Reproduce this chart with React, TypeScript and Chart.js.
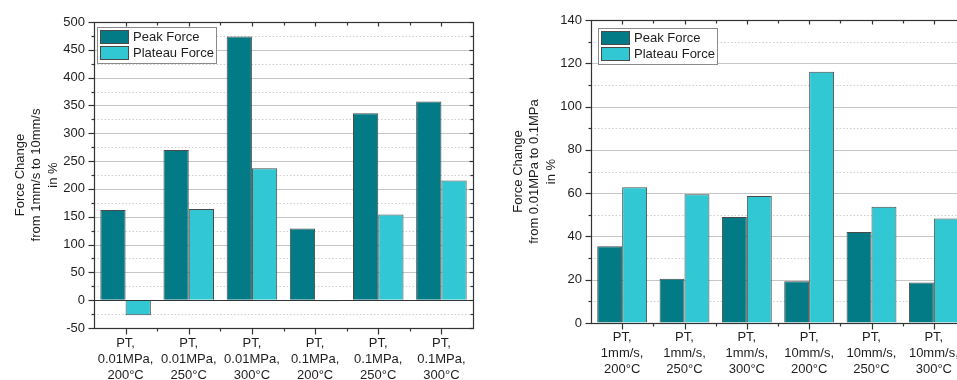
import React, { useEffect, useRef } from 'react';
import { Chart, registerables } from 'chart.js';

Chart.register(...registerables);

// ---------- data ----------
const seriesLabels = ['Peak Force', 'Plateau Force'];

const leftCategories = [
  ['PT,', '0.01MPa,', '200°C'],
  ['PT,', '0.01MPa,', '250°C'],
  ['PT,', '0.01MPa,', '300°C'],
  ['PT,', '0.1MPa,', '200°C'],
  ['PT,', '0.1MPa,', '250°C'],
  ['PT,', '0.1MPa,', '300°C'],
];
const leftPeak = [162, 270, 474, 129, 336, 357];
const leftPlateau = [-27, 164, 237, -2, 154, 215];
const leftTitle = ['Force Change', 'from 1mm/s to 10mm/s', 'in %'];

const rightCategories = [
  ['PT,', '1mm/s,', '200°C'],
  ['PT,', '1mm/s,', '250°C'],
  ['PT,', '1mm/s,', '300°C'],
  ['PT,', '10mm/s,', '200°C'],
  ['PT,', '10mm/s,', '250°C'],
  ['PT,', '10mm/s,', '300°C'],
];
const rightPeak = [35.5, 20.5, 49.0, 19.3, 42.1, 18.7];
const rightPlateau = [62.7, 59.5, 58.7, 116.1, 53.7, 48.3];
const rightTitle = ['Force Change', 'from 0.01MPa to 0.1MPa', 'in %'];

// ---------- style ----------
const FONT = '"Liberation Sans", Arial, sans-serif';
const PEAK_COLOR = '#037b86';
const PLATEAU_COLOR = '#31c8d3';
const BAR_BORDER = '#4a4a4a';
const AXIS_COLOR = '#333333';
const TEXT_COLOR = '#1e1e1e';

function hline(ctx: CanvasRenderingContext2D, x1: number, x2: number, y: number) {
  ctx.beginPath();
  ctx.moveTo(x1, y);
  ctx.lineTo(x2, y);
  ctx.stroke();
}
function vline(ctx: CanvasRenderingContext2D, x: number, y1: number, y2: number) {
  ctx.beginPath();
  ctx.moveTo(x, y1);
  ctx.lineTo(x, y2);
  ctx.stroke();
}

const decoPlugin = {
  id: 'deco',
  beforeDatasetsDraw(chart: any, _args: any, opts: any) {
    const { ctx, chartArea: a, scales } = chart;
    const y = scales.y;
    const vals: number[] = y.ticks.map((t: any) => t.value);
    ctx.save();
    ctx.lineWidth = 1;
    // minor dotted gridlines
    ctx.strokeStyle = '#cdcdcd';
    ctx.setLineDash([1.5, 2]);
    for (let i = 0; i < vals.length - 1; i++) {
      const py = Math.round(y.getPixelForValue((vals[i] + vals[i + 1]) / 2)) + 0.5;
      hline(ctx, a.left, a.right, py);
    }
    ctx.setLineDash([]);
    ctx.strokeStyle = '#c6c6c6';
    for (let i = 1; i < vals.length - 1; i++) {
      const py = Math.round(y.getPixelForValue(vals[i])) + 0.5;
      hline(ctx, a.left, a.right, py);
    }
    if (opts.zeroLine) {
      ctx.strokeStyle = AXIS_COLOR;
      const py = Math.round(y.getPixelForValue(0)) + 0.5;
      hline(ctx, a.left, a.right, py);
    }
    ctx.restore();
  },
  afterDraw(chart: any, _args: any, opts: any) {
    const { ctx, chartArea: a, scales } = chart;
    const x = scales.x;
    const y = scales.y;
    const vals: number[] = y.ticks.map((t: any) => t.value);
    ctx.save();
    ctx.strokeStyle = AXIS_COLOR;
    ctx.lineWidth = 1.2;
    const L = Math.round(a.left) + 0.5;
    const R = Math.round(a.right) + 0.5;
    const T = Math.round(a.top) + 0.5;
    const B = Math.round(a.bottom) + 0.5;
    ctx.strokeRect(L, T, R - L, B - T);
    // y ticks (major + minor), left outward, right inward
    for (let i = 0; i < vals.length; i++) {
      const py = Math.round(y.getPixelForValue(vals[i])) + 0.5;
      hline(ctx, L - 6, L, py);
      hline(ctx, R - 4, R, py);
      if (i < vals.length - 1) {
        const pm = Math.round(y.getPixelForValue((vals[i] + vals[i + 1]) / 2)) + 0.5;
        hline(ctx, L - 3, L, pm);
        hline(ctx, R - 3, R, pm);
      }
    }
    // x ticks at category centers and minor at boundaries
    const n = chart.data.labels.length;
    for (let i = 0; i < n; i++) {
      const px = Math.round(x.getPixelForTick(i)) + 0.5;
      vline(ctx, px, B, B + 6);
      vline(ctx, px, T, T + 4);
      if (i < n - 1) {
        const pm = Math.round((x.getPixelForTick(i) + x.getPixelForTick(i + 1)) / 2) + 0.5;
        vline(ctx, pm, B, B + 3);
        vline(ctx, pm, T, T + 3);
      }
    }
    // legend
    const lx = a.left + opts.legendDX;
    const ly = a.top + opts.legendDY;
    ctx.font = `13px ${FONT}`;
    const items = chart.data.datasets.map((d: any) => ({ label: d.label, color: d.backgroundColor }));
    const tw = Math.max(...items.map((it: any) => ctx.measureText(it.label).width));
    const sw = 29, sh = 14, pad = 2, gap = 4;
    const bw = pad + sw + gap + tw + 3;
    const bh = pad + items.length * sh + (items.length - 1) * 2 + pad + 2;
    ctx.fillStyle = '#ffffff';
    ctx.fillRect(lx, ly, bw, bh);
    ctx.strokeStyle = '#8a8a8a';
    ctx.lineWidth = 1;
    ctx.strokeRect(Math.round(lx) + 0.5, Math.round(ly) + 0.5, Math.round(bw), Math.round(bh));
    items.forEach((it: any, k: number) => {
      const sx = Math.round(lx) + pad + 1;
      const sy = Math.round(ly) + pad + 1 + k * (sh + 2);
      ctx.fillStyle = it.color;
      ctx.fillRect(sx, sy, sw, sh);
      ctx.strokeStyle = BAR_BORDER;
      ctx.strokeRect(sx + 0.5, sy + 0.5, sw - 1, sh - 1);
      ctx.fillStyle = TEXT_COLOR;
      ctx.textBaseline = 'middle';
      ctx.textAlign = 'left';
      ctx.fillText(it.label, sx + sw + gap, sy + sh / 2 + 0.5);
    });
    ctx.restore();
  },
};

type Props = {
  width: number;
  height: number;
  categories: string[][];
  peak: number[];
  plateau: number[];
  title: string[];
  yMin: number;
  yMax: number;
  step: number;
  layoutPad: { left: number; right: number; top: number; bottom: number };
  yWidth: number;
  xHeight: number;
  titlePad: number;
  xLabelPad: number;
  legendDX: number;
  legendDY: number;
  zeroLine: boolean;
  style: React.CSSProperties;
};

function BarPanel(p: Props) {
  const ref = useRef<HTMLCanvasElement | null>(null);
  useEffect(() => {
    if (!ref.current) return;
    const chart = new Chart(ref.current, {
      type: 'bar',
      data: {
        labels: p.categories,
        datasets: [
          {
            label: seriesLabels[0],
            data: p.peak,
            backgroundColor: PEAK_COLOR,
            borderColor: BAR_BORDER,
            borderWidth: 1,
            categoryPercentage: 0.8,
            barPercentage: 1.0,
          },
          {
            label: seriesLabels[1],
            data: p.plateau,
            backgroundColor: PLATEAU_COLOR,
            borderColor: BAR_BORDER,
            borderWidth: 1,
            categoryPercentage: 0.8,
            barPercentage: 1.0,
          },
        ],
      },
      options: {
        responsive: false,
        animation: false,
        devicePixelRatio: 1,
        layout: { padding: p.layoutPad },
        plugins: {
          legend: { display: false },
          tooltip: { enabled: false },
          deco: { legendDX: p.legendDX, legendDY: p.legendDY, zeroLine: p.zeroLine },
        } as any,
        scales: {
          x: {
            type: 'category',
            offset: true,
            grid: { display: true, color: 'rgba(0,0,0,0)', drawTicks: true, tickLength: 6 },
            border: { display: false },
            ticks: {
              color: TEXT_COLOR,
              padding: p.xLabelPad,
              maxRotation: 0,
              autoSkip: false,
              font: { family: FONT, size: 13, lineHeight: 1.25 },
            },
            afterFit: (s: any) => {
              s.height = p.xHeight;
            },
          },
          y: {
            type: 'linear',
            min: p.yMin,
            max: p.yMax,
            grid: { display: true, color: 'rgba(0,0,0,0)', drawTicks: true, tickLength: 6 },
            border: { display: false },
            ticks: {
              stepSize: p.step,
              color: TEXT_COLOR,
              padding: 3,
              font: { family: FONT, size: 13 },
            },
            title: {
              display: true,
              text: p.title,
              color: TEXT_COLOR,
              font: { family: FONT, size: 13, lineHeight: 1.27 },
              padding: { top: p.titlePad, bottom: 0 },
            },
            afterFit: (s: any) => {
              s.width = p.yWidth;
            },
          },
        },
      },
      plugins: [decoPlugin as any],
    });
    return () => chart.destroy();
  }, []);
  return <canvas ref={ref} width={p.width} height={p.height} style={p.style} />;
}

export default function App() {
  return (
    <div
      style={{
        position: 'fixed',
        left: 0,
        top: 0,
        width: 957,
        height: 380,
        overflow: 'hidden',
        background: '#ffffff',
      }}
    >
      <BarPanel
        width={480}
        height={380}
        categories={leftCategories}
        peak={leftPeak}
        plateau={leftPlateau}
        title={leftTitle}
        yMin={-50}
        yMax={500}
        step={50}
        layoutPad={{ left: 0, right: 7, top: 22, bottom: 0 }}
        yWidth={94}
        xHeight={52}
        titlePad={12}
        xLabelPad={1}
        legendDX={3}
        legendDY={5}
        zeroLine={true}
        style={{ position: 'absolute', left: 0, top: 0 }}
      />
      <BarPanel
        width={500}
        height={380}
        categories={rightCategories}
        peak={rightPeak}
        plateau={rightPlateau}
        title={rightTitle}
        yMin={0}
        yMax={140}
        step={20}
        layoutPad={{ left: 0, right: 15, top: 20, bottom: 0 }}
        yWidth={111}
        xHeight={57}
        titlePad={30}
        xLabelPad={0}
        legendDX={7}
        legendDY={8}
        zeroLine={false}
        style={{ position: 'absolute', left: 480, top: 0 }}
      />
    </div>
  );
}
